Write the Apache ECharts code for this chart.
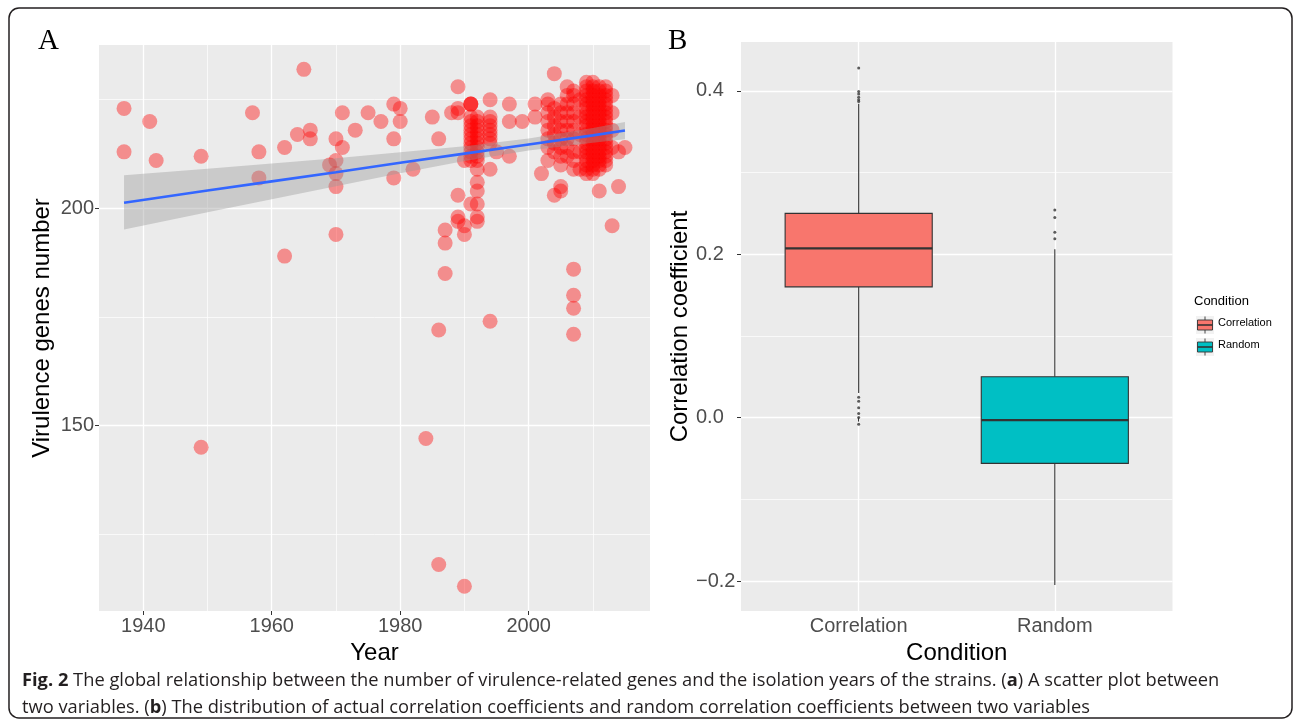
<!DOCTYPE html>
<html>
<head>
<meta charset="utf-8">
<script src="https://cdn.jsdelivr.net/npm/echarts@6/dist/echarts.min.js"></script>
<style>
html, body { margin: 0; padding: 0; background: #fff; }
#chart { width: 1295px; height: 726px; }
</style>
</head>
<body>
<div id="chart"></div>
<script>
var chart = echarts.init(document.getElementById('chart'));

// panel A: one point per strain, [isolation year, virulence genes]
var strains = [
	[1937, 223], [1937, 213], [1941, 220], [1942, 211], [1949, 212], [1949, 145],
	[1957, 222], [1958, 213], [1958, 207], [1962, 214], [1962, 189], [1964, 217],
	[1965, 232], [1966, 218], [1966, 216], [1969, 210],
	[1970, 216], [1970, 211], [1970, 208], [1970, 205], [1970, 194],
	[1971, 222], [1971, 214], [1973, 218], [1975, 222], [1977, 220],
	[1979, 224], [1979, 216], [1979, 207], [1980, 223], [1980, 220], [1982, 209],
	[1984, 147], [1985, 221], [1986, 216], [1986, 172], [1986, 118],
	[1987, 195], [1987, 192], [1987, 185], [1988, 222],
	[1989, 228], [1989, 223], [1989, 222], [1989, 203], [1989, 198], [1989, 197],
	[1990, 211], [1990, 196], [1990, 194], [1990, 113],
	[1991, 224], [1991, 224], [1991, 224], [1991, 221], [1991, 220], [1991, 219], [1991, 218],
	[1991, 217], [1991, 216], [1991, 215], [1991, 214], [1991, 213], [1991, 212], [1991, 211], [1991, 201],
	[1992, 221], [1992, 220], [1992, 219], [1992, 218], [1992, 217], [1992, 216], [1992, 215],
	[1992, 214], [1992, 213], [1992, 212], [1992, 211], [1992, 209], [1992, 206], [1992, 204],
	[1992, 201], [1992, 198], [1992, 197],
	[1994, 225], [1994, 221], [1994, 220], [1994, 219], [1994, 218], [1994, 217], [1994, 216],
	[1994, 215], [1994, 209], [1994, 174],
	[1995, 213], [1997, 224], [1997, 220], [1997, 212], [1999, 220],
	[2001, 224], [2001, 221], [2002, 208],
	[2003, 225], [2003, 224], [2003, 222], [2003, 220], [2003, 218], [2003, 216], [2003, 214], [2003, 211],
	[2004, 231], [2004, 223], [2004, 221], [2004, 219], [2004, 217], [2004, 215], [2004, 213], [2004, 203],
	[2005, 224], [2005, 222], [2005, 220], [2005, 218], [2005, 216], [2005, 214], [2005, 212], [2005, 210],
	[2005, 205], [2005, 204],
	[2006, 228], [2006, 226], [2006, 224], [2006, 222], [2006, 220], [2006, 218], [2006, 216], [2006, 214], [2006, 212],
	[2007, 227], [2007, 226], [2007, 224], [2007, 222], [2007, 220], [2007, 218], [2007, 216], [2007, 213],
	[2007, 211], [2007, 209], [2007, 186], [2007, 180], [2007, 177], [2007, 171],
	[2008, 225], [2008, 221], [2008, 217], [2008, 213], [2008, 209],
	[2009, 229], [2009, 228], [2009, 227], [2009, 226], [2009, 225], [2009, 224], [2009, 223], [2009, 222],
	[2009, 221], [2009, 220], [2009, 219], [2009, 218], [2009, 217], [2009, 216], [2009, 215], [2009, 214],
	[2009, 213], [2009, 212], [2009, 211], [2009, 210], [2009, 209], [2009, 208],
	[2010, 229], [2010, 228], [2010, 227], [2010, 226], [2010, 225], [2010, 224], [2010, 223], [2010, 222],
	[2010, 221], [2010, 220], [2010, 219], [2010, 218], [2010, 217], [2010, 216], [2010, 215], [2010, 214],
	[2010, 213], [2010, 212], [2010, 211], [2010, 210], [2010, 209], [2010, 208],
	[2011, 228], [2011, 227], [2011, 226], [2011, 225], [2011, 224], [2011, 223], [2011, 222], [2011, 221],
	[2011, 220], [2011, 219], [2011, 218], [2011, 217], [2011, 216], [2011, 215], [2011, 214], [2011, 213],
	[2011, 212], [2011, 211], [2011, 210], [2011, 209], [2011, 204],
	[2012, 228], [2012, 227], [2012, 226], [2012, 225], [2012, 224], [2012, 223], [2012, 222], [2012, 221],
	[2012, 220], [2012, 219], [2012, 218], [2012, 217], [2012, 216], [2012, 215], [2012, 214], [2012, 213],
	[2012, 212], [2012, 211], [2012, 210],
	[2013, 226], [2013, 222], [2013, 218], [2013, 214], [2013, 196],
	[2014, 213], [2014, 205], [2015, 214]
];

var yearTicks = [1940, 1960, 1980, 2000];
var yearMinor = [1950, 1970, 1990, 2010];
var geneTicks = [150, 200];
var geneMinor = [125, 175, 225];

// linear fit and its confidence band, read at a few years
var fitYears = [1937, 1950, 1960, 1970, 1980, 1990, 2000, 2010, 2015];
var fitValues = [201.3, 204.1, 206.2, 208.3, 210.5, 212.6, 214.7, 216.8, 217.9];
var bandLow = [195.1, 199.1, 202.1, 205.1, 208.1, 210.9, 213.3, 215.1, 215.9];
var bandHigh = [207.6, 209.1, 210.3, 211.5, 212.9, 214.3, 216.1, 218.5, 219.9];

// panel B: box statistics per condition
var conditions = ['Correlation', 'Random'];
var whiskerLow = [0.030, -0.205];
var q1 = [0.160, -0.056];
var medians = [0.207, -0.003];
var q3 = [0.250, 0.050];
var whiskerHigh = [0.384, 0.206];
var corrOutliers = [0.428, 0.399, 0.396, 0.392, 0.389, 0.387, 0.025, 0.020, 0.012, 0.005, 0.000, -0.008];
var randOutliers = [0.254, 0.245, 0.227, 0.219];

var coefTicks = [-0.2, 0, 0.2, 0.4];
var coefTickLabels = ['\u22120.2', '0.0', '0.2', '0.4'];
var coefMinor = [-0.1, 0.1, 0.3];

var FONT = 'Liberation Sans';
var fills = ['#F8766D', '#00BFC4'];

function mainAxis(grid, min, max, ticks, extra) {
	var ax = {
		gridIndex: grid, type: 'value', min: min, max: max,
		axisLine: { show: false },
		axisTick: { show: true, length: 4, lineStyle: { color: '#333', width: 1 }, customValues: ticks },
		axisLabel: { customValues: ticks, color: '#4D4D4D', fontSize: 20, fontFamily: FONT, margin: 5,
			formatter: function (v) { return String(v); } },
		splitLine: { show: true, lineStyle: { color: '#fff', width: 1.3 } },
		nameLocation: 'middle',
		nameTextStyle: { color: '#000', fontSize: 24, fontFamily: FONT }
	};
	for (var k in extra) ax[k] = extra[k];
	return ax;
}

function minorAxis(grid, min, max, ticks, pos) {
	return {
		gridIndex: grid, type: 'value', min: min, max: max, position: pos,
		axisLine: { show: false },
		axisTick: { show: false, customValues: ticks },
		axisLabel: { show: false },
		splitLine: { show: true, lineStyle: { color: '#fff', width: 0.7 } }
	};
}

var option = {
	backgroundColor: '#fff',
	animation: false,
	grid: [
		{ left: 99, top: 45, width: 551, height: 566, show: true, backgroundColor: '#EBEBEB', borderWidth: 0, outerBoundsMode: 'none' },
		{ left: 741, top: 42, width: 431.5, height: 569, show: true, backgroundColor: '#EBEBEB', borderWidth: 0, outerBoundsMode: 'none' }
	],
	xAxis: [
		mainAxis(0, 1933.1, 2018.9, yearTicks, { name: 'Year', nameGap: 24 }),
		minorAxis(0, 1933.1, 2018.9, yearMinor, 'top'),
		mainAxis(1, 0.4, 2.6, [1, 2], {
			name: 'Condition', nameGap: 24,
			axisLabel: { customValues: [1, 2], color: '#4D4D4D', fontSize: 20, fontFamily: FONT, margin: 5,
				formatter: function (v) { return conditions[Math.round(v) - 1]; } }
		})
	],
	yAxis: [
		mainAxis(0, 107.3, 237.6, geneTicks, { name: 'Virulence genes number', nameGap: 45 }),
		minorAxis(0, 107.3, 237.6, geneMinor, 'right'),
		mainAxis(1, -0.2367, 0.4597, coefTicks, {
			name: 'Correlation coefficient', nameGap: 48,
			axisLabel: { customValues: coefTicks, color: '#4D4D4D', fontSize: 20, fontFamily: FONT, margin: 45, align: 'left',
				formatter: function (v) {
					for (var i = 0; i < coefTicks.length; i++) if (Math.abs(coefTicks[i] - v) < 1e-9) return coefTickLabels[i];
					return '';
				} }
		}),
		minorAxis(1, -0.2367, 0.4597, coefMinor, 'right')
	],
	series: [
		{
			type: 'scatter', xAxisIndex: 0, yAxisIndex: 0, z: 2,
			symbol: 'circle', symbolSize: 15,
			itemStyle: { color: 'rgba(255,0,0,0.5)', borderWidth: 0 },
			data: strains
		},
		{
			type: 'custom', xAxisIndex: 0, yAxisIndex: 0, z: 3, silent: true,
			data: fitYears.map(function (y, i) { return [y, bandLow[i], bandHigh[i]]; }),
			encode: { x: 0, y: [1, 2] },
			renderItem: function (params, api) {
				if (params.dataIndex !== 0) return;
				var pts = [];
				for (var i = 0; i < fitYears.length; i++) pts.push(api.coord([fitYears[i], bandHigh[i]]));
				for (var j = fitYears.length - 1; j >= 0; j--) pts.push(api.coord([fitYears[j], bandLow[j]]));
				return { type: 'polygon', shape: { points: pts }, style: { fill: 'rgba(153,153,153,0.4)' } };
			}
		},
		{
			type: 'line', xAxisIndex: 0, yAxisIndex: 0, z: 4,
			showSymbol: false, symbol: 'none',
			lineStyle: { color: '#3366FF', width: 2.6 },
			data: fitYears.map(function (y, i) { return [y, fitValues[i]]; })
		},
		{
			type: 'custom', xAxisIndex: 2, yAxisIndex: 2, z: 3,
			data: conditions.map(function (c, i) { return [i + 1, whiskerLow[i], q1[i], medians[i], q3[i], whiskerHigh[i]]; }),
			encode: { x: 0, y: [1, 2, 3, 4, 5] },
			renderItem: function (params, api) {
				var i = params.dataIndex;
				var x = api.value(0);
				var w = 0.375;
				var tl = api.coord([x - w, api.value(4)]);
				var br = api.coord([x + w, api.value(2)]);
				var mL = api.coord([x - w, api.value(3)]);
				var mR = api.coord([x + w, api.value(3)]);
				var top = api.coord([x, api.value(5)]);
				var bot = api.coord([x, api.value(1)]);
				var line = { stroke: '#333333', lineWidth: 1.1 };
				return {
					type: 'group',
					children: [
						{ type: 'line', shape: { x1: top[0], y1: top[1], x2: top[0], y2: tl[1] }, style: line },
						{ type: 'line', shape: { x1: bot[0], y1: br[1], x2: bot[0], y2: bot[1] }, style: line },
						{ type: 'rect', shape: { x: tl[0], y: tl[1], width: br[0] - tl[0], height: br[1] - tl[1] },
							style: { fill: fills[i], stroke: '#333333', lineWidth: 1.1 } },
						{ type: 'line', shape: { x1: mL[0], y1: mL[1], x2: mR[0], y2: mR[1] },
							style: { stroke: '#333333', lineWidth: 2.2 } }
					]
				};
			}
		},
		{
			type: 'scatter', xAxisIndex: 2, yAxisIndex: 2, z: 4,
			symbol: 'circle', symbolSize: 3,
			itemStyle: { color: '#333333' },
			data: corrOutliers.map(function (v) { return [1, v]; }).concat(randOutliers.map(function (v) { return [2, v]; }))
		}
	],
	graphic: [
		{ type: 'rect', shape: { x: 9, y: 8, width: 1283, height: 710, r: 10 },
			style: { fill: 'none', stroke: '#231F20', lineWidth: 1.5 }, z: 0 },
		{ type: 'text', left: 38, top: 27, style: { text: 'A', fontFamily: 'Liberation Serif', fontSize: 29, fill: '#000' } },
		{ type: 'text', left: 668, top: 27, style: { text: 'B', fontFamily: 'Liberation Serif', fontSize: 29, fill: '#000' } },
		// legend
		{ type: 'text', left: 1194, top: 295, style: { text: 'Condition', fontFamily: FONT, fontSize: 13, fill: '#000' } },
		{ type: 'group', left: 1195, top: 314, children: legendKey(0) },
		{ type: 'group', left: 1195, top: 336, children: legendKey(1) },
		{ type: 'text', left: 1218, top: 317, style: { text: conditions[0], fontFamily: FONT, fontSize: 11, fill: '#000' } },
		{ type: 'text', left: 1218, top: 339, style: { text: conditions[1], fontFamily: FONT, fontSize: 11, fill: '#000' } },
		// caption
		{ type: 'text', left: 22, top: 667,
			style: {
				text: '{b|Fig. 2} The global relationship between the number of virulence-related genes and the isolation years of the strains. ({b|a}) A scatter plot between\n' +
					'two variables. ({b|b}) The distribution of actual correlation coefficients and random correlation coefficients between two variables',
				fontFamily: 'Open Sans', fontSize: 18.3, lineHeight: 27, fill: '#231F20',
				rich: { b: { fontWeight: 'bold', fontFamily: 'Open Sans', fontSize: 18.3, fill: '#231F20' } }
			} }
	]
};

function legendKey(i) {
	return [
		{ type: 'rect', shape: { x: 0, y: 0, width: 18, height: 18 }, style: { fill: '#F2F2F2' } },
		{ type: 'line', shape: { x1: 9, y1: 0.5, x2: 9, y2: 4 }, style: { stroke: '#333', lineWidth: 0.9 } },
		{ type: 'line', shape: { x1: 9, y1: 14, x2: 9, y2: 17.5 }, style: { stroke: '#333', lineWidth: 0.9 } },
		{ type: 'rect', shape: { x: 1.5, y: 4, width: 15, height: 10 }, style: { fill: fills[i], stroke: '#333', lineWidth: 0.9 } },
		{ type: 'line', shape: { x1: 1.5, y1: 9, x2: 16.5, y2: 9 }, style: { stroke: '#333', lineWidth: 1.6 } }
	];
}

chart.setOption(option);
</script>
</body>
</html>
